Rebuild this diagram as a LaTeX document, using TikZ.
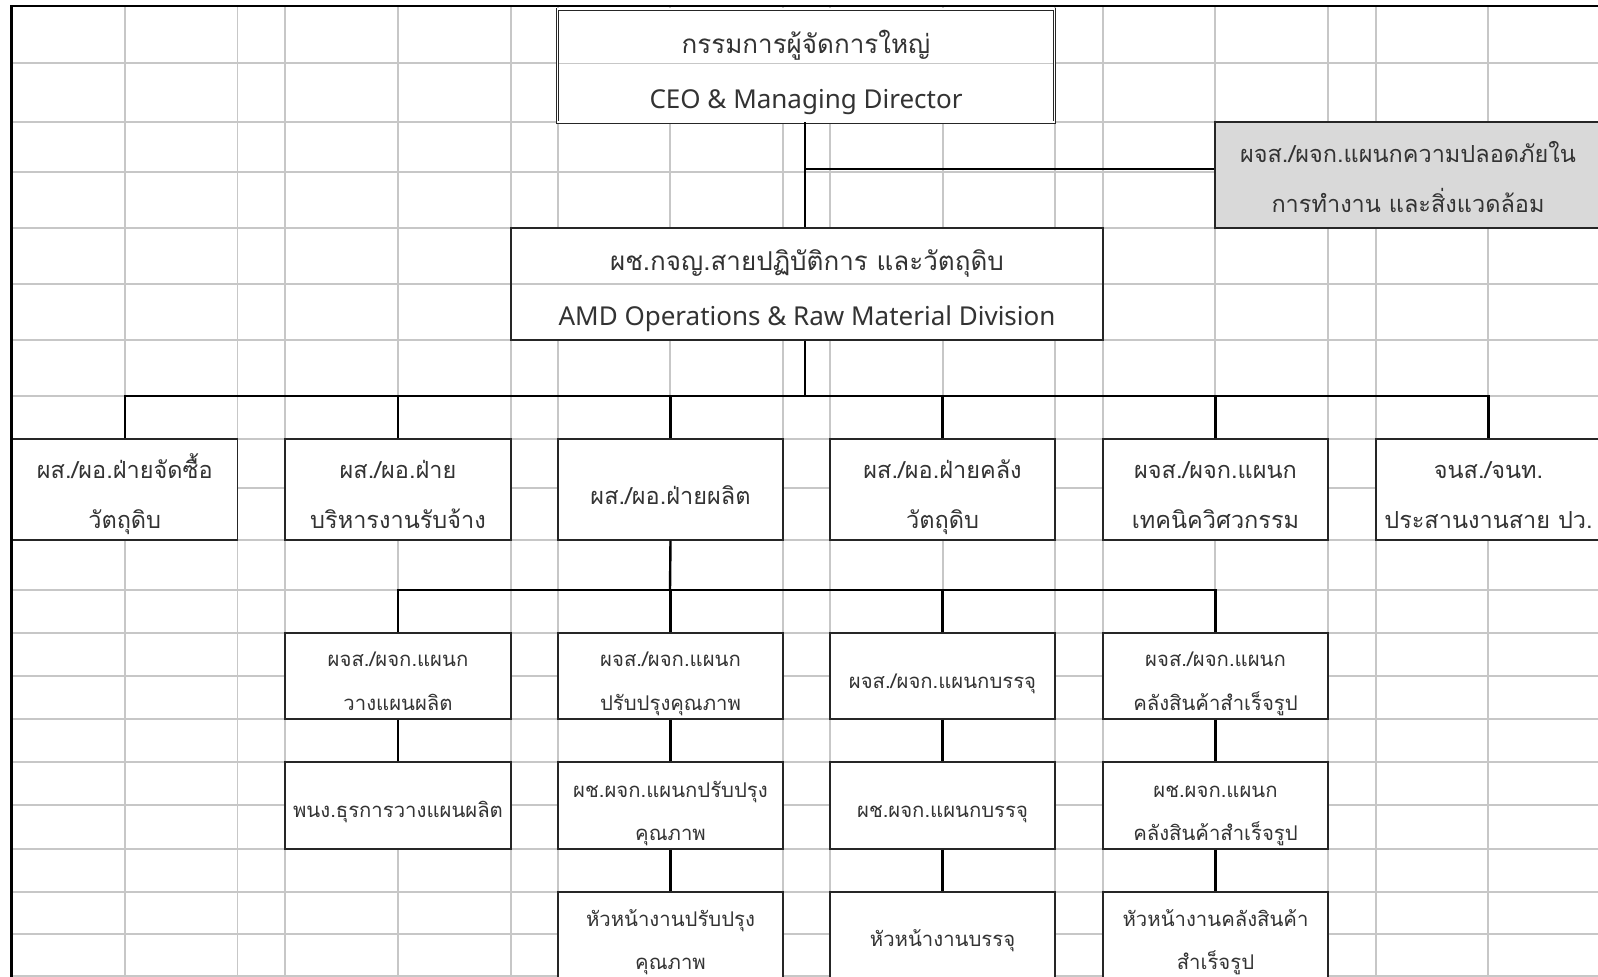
\documentclass[tikz,border=0pt]{standalone}
\usepackage{fontspec}
\setmainfont{Noto Sans}
\newfontfamily\thai[Script=Thai]{Loma}
\begin{document}
\begin{tikzpicture}[x=1pt,y=-1pt,
  gridln/.style={draw=black!22,line width=1.2pt},
  orgbox/.style={draw=black!85,line width=1.2pt,fill=white,inner sep=0pt,align=center,text=black!80},
  bigtxt/.style={font=\fontsize{26}{55}\selectfont},
  midtxt/.style={font=\thai\fontsize{23.5}{50}\selectfont},
  smalltxt/.style={font=\thai\fontsize{20.3}{43.5}\selectfont},
  tx/.style 2 args={text height=#1pt,text depth=#2pt},
  wd/.style={minimum width=#1pt},
  ht/.style={minimum height=#1pt},
  link/.style={draw=black,line width=2.4pt},
  frameln/.style={draw=black,line width=2.3pt}]
\useasboundingbox (0,0) rectangle (1598,977);
\clip (0,0) rectangle (1598,977);
% spreadsheet grid
\foreach \r in {63,122,172,228,284,340,396,439,488,540,590,633,676,719,762,805,849,892,934,976}
  \draw[gridln] (12,\r) -- (1598,\r);
\foreach \c in {125,237.5,285,398,511,558,670,783,830,943,1055,1103,1215,1328,1376,1488}
  \draw[gridln] (\c,6) -- (\c,977);
% top level
\node[orgbox,bigtxt,tx={92.8}{7.2},double,double distance=1.2pt,line width=0.9pt,wd=497,ht=113,
  path picture={\draw[gridln] ([yshift=-54.5pt]path picture bounding box.north west) -- ([yshift=-54.5pt]path picture bounding box.north east);}]
  (ceo) at (806,65.5) {{\thai กรรมการผู้จัดการใหญ่}\\CEO \& Managing Director};
\node[orgbox,midtxt,tx={82.3}{7.7},fill=black!15,wd=386,ht=106] (safety) at (1408,175)
  {ผจส./ผจก.แผนกความปลอดภัยใน\\การทำงาน และสิ่งแวดล้อม};
\node[orgbox,bigtxt,tx={91.7}{8.3},wd=592,ht=112,
  path picture={\draw[gridln] ([yshift=-56pt]path picture bounding box.north west) -- ([yshift=-56pt]path picture bounding box.north east);}]
  (amd) at (807,284) {{\thai ผช.กจญ.สายปฏิบัติการ และวัตถุดิบ}\\AMD Operations \& Raw Material Division};
% level 2
\node[orgbox,midtxt,tx={83.8}{6.2},wd=225.5,ht=101] (pur) at (124.75,489.5) {ผส./ผอ.ฝ่ายจัดซื้อ\\วัตถุดิบ};
\node[orgbox,midtxt,tx={83.8}{6.2},wd=226,ht=101] (con) at (398,489.5) {ผส./ผอ.ฝ่าย\\บริหารงานรับจ้าง};
\node[orgbox,midtxt,tx={44.5}{15.5},wd=225,ht=101] (pro) at (670.5,489.5) {ผส./ผอ.ฝ่ายผลิต};
\node[orgbox,midtxt,tx={83.8}{6.2},wd=225,ht=101] (raw) at (942.5,489.5) {ผส./ผอ.ฝ่ายคลัง\\วัตถุดิบ};
\node[orgbox,midtxt,tx={83.8}{6.2},wd=225,ht=101] (tec) at (1215.5,489.5) {ผจส./ผจก.แผนก\\เทคนิควิศวกรรม};
\node[orgbox,midtxt,tx={83.8}{6.2},wd=225,ht=101] (crd) at (1488.5,489.5) {จนส./จนท.\\ประสานงานสาย ปว.};
% level 3
\node[orgbox,smalltxt,tx={74.2}{5.8},wd=226,ht=86] (pln) at (398,676) {ผจส./ผจก.แผนก\\วางแผนผลิต};
\node[orgbox,smalltxt,tx={74.2}{5.8},wd=225,ht=86] (qua) at (670.5,676) {ผจส./ผจก.แผนก\\ปรับปรุงคุณภาพ};
\node[orgbox,smalltxt,tx={42.3}{17.7},wd=225,ht=86] (pak) at (942.5,676) {ผจส./ผจก.แผนกบรรจุ};
\node[orgbox,smalltxt,tx={74.2}{5.8},wd=225,ht=86] (fgw) at (1215.5,676) {ผจส./ผจก.แผนก\\คลังสินค้าสำเร็จรูป};
% level 4
\node[orgbox,smalltxt,tx={41.8}{18.2},wd=226,ht=87] (pln2) at (398,805.5) {พนง.ธุรการวางแผนผลิต};
\node[orgbox,smalltxt,tx={75.3}{4.7},wd=225,ht=87] (qua2) at (670.5,805.5) {ผช.ผจก.แผนกปรับปรุง\\คุณภาพ};
\node[orgbox,smalltxt,tx={41.8}{18.2},wd=225,ht=87] (pak2) at (942.5,805.5) {ผช.ผจก.แผนกบรรจุ};
\node[orgbox,smalltxt,tx={75.3}{4.7},wd=225,ht=87] (fgw2) at (1215.5,805.5) {ผช.ผจก.แผนก\\คลังสินค้าสำเร็จรูป};
% level 5
\node[orgbox,smalltxt,tx={74}{6},wd=225,ht=87] (qua3) at (670.5,935.5) {หัวหน้างานปรับปรุง\\คุณภาพ};
\node[orgbox,smalltxt,tx={41.2}{18.8},wd=225,ht=87] (pak3) at (942.5,935.5) {หัวหน้างานบรรจุ};
\node[orgbox,smalltxt,tx={74}{6},wd=225,ht=87] (fgw3) at (1215.5,935.5) {หัวหน้างานคลังสินค้า\\สำเร็จรูป};
% connectors
\coordinate (j1) at (805,169);
\coordinate (bus1) at (805,396);
\coordinate (bus2) at (670,590);
\draw[link] (ceo.south -| j1) -- (amd.north -| j1);
\draw[link] (j1) -- (j1 -| safety.west);
\draw[link] (amd.south -| j1) -- (bus1);
\draw[link] (pur.north) -- (pur.north |- bus1) -- (crd.north |- bus1) -- (crd.north);
\foreach \n in {con,pro,raw,tec}
  \draw[link] (\n.north) -- (\n.north |- bus1);
\draw[link] (pro.south) -- (bus2);
\draw[link] (pln.north) -- (pln.north |- bus2) -- (fgw.north |- bus2) -- (fgw.north);
\foreach \n in {qua,pak}
  \draw[link] (\n.north) -- (\n.north |- bus2);
\draw[link] (pln.south) -- (pln2.north);
\draw[link] (qua.south) -- (qua2.north);
\draw[link] (pak.south) -- (pak2.north);
\draw[link] (fgw.south) -- (fgw2.north);
\draw[link] (qua2.south) -- (qua3.north);
\draw[link] (pak2.south) -- (pak3.north);
\draw[link] (fgw2.south) -- (fgw3.north);
% sheet frame
\draw[frameln] (11.5,977) -- (11.5,6) -- (1598,6);
\end{tikzpicture}
\end{document}
